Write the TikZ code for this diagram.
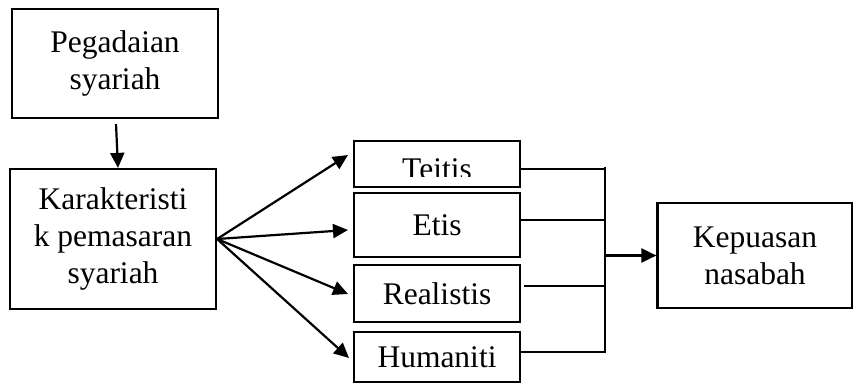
\documentclass[tikz,border=0pt]{standalone}
\usepackage{fontspec}
\setmainfont{Liberation Serif}
\usetikzlibrary{arrows.meta,calc}
\begin{document}
\begin{tikzpicture}[x=1pt,y=-1pt,
  every node/.style={font=\fontsize{31.5}{37}\selectfont},
  box/.style={draw,line width=2.2pt,inner sep=0pt,align=center},
  link/.style={line width=2.2pt},
  arr/.style={line width=2.2pt,-{Triangle[length=15pt,width=14pt]}}]
\useasboundingbox (0,0) rectangle (853,383);

% left column
\node[box,minimum width=206,minimum height=109] (peg) at (115,63.5) {Pegadaian\\syariah};
\node[box,minimum width=206,minimum height=140] (kar) at (113,239) {Karakteristi\\k pemasaran\\syariah};

% middle column
\node[box,minimum width=166,minimum height=46] (teitis) at (437,164) {};
\node[box,minimum width=166,minimum height=64] (etis) at (437,225) {Etis};
\node[box,minimum width=166,minimum height=57] (real) at (437,293.5) {Realistis};
\node[box,minimum width=166,minimum height=50] (hum) at (437,357) {Humaniti};

% label of the first box, cut off at its lower part
\begin{scope}
  \clip (355,142) rectangle (519,176.7);
  \node[inner sep=0pt,anchor=base] (teitistext) at (437,179.5) {Teitis};
\end{scope}

% right column
\node[box,minimum width=195,minimum height=105] (kep) at (755,255.5) {Kepuasan\\nasabah};

% connectors
\draw[arr] (116,124) -- (kar.north -| 118,0);
\coordinate (fan) at (kar.east);
\draw[arr] (fan) -- (348,155);
\draw[arr] (fan) -- (348,230);
\draw[arr] (fan) -- (348,294);
\draw[arr] (fan) -- (349,358);

\coordinate (bartop) at (605,168);
\coordinate (barbot) at (605,352);
\draw[link] (teitis.east |- 0,169) -- (bartop |- 0,169);
\draw[link] (etis.east |- 0,220) -- (bartop |- 0,220);
\draw[link] (524,286) -- (bartop |- 0,286);
\draw[link] (hum.east |- 0,352) -- (barbot);
\draw[link] ([yshift=1.1pt]bartop) -- ([yshift=-1.1pt]barbot);
\draw[arr] (bartop |- kep.west) -- (kep.west);
\end{tikzpicture}
\end{document}
